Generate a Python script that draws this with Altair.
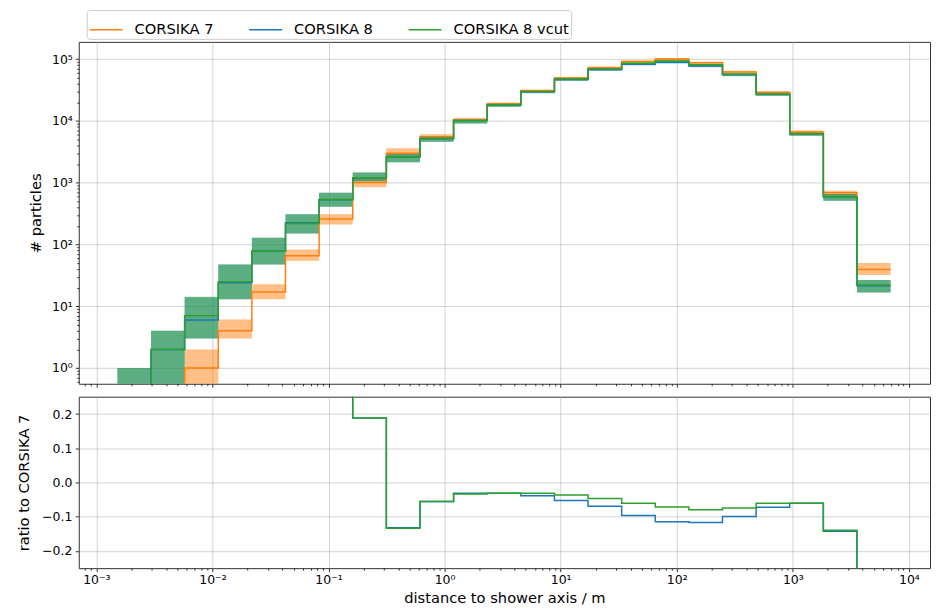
import altair as alt
import pandas as pd

# ---------------- data ----------------
edges = [1.518e-3, 2.957e-3, 5.761e-3, 1.122e-2, 2.186e-2, 4.259e-2, 8.297e-2,
         0.1616, 0.3148, 0.6134, 1.195, 2.328, 4.535, 8.835, 17.21, 33.53,
         65.31, 127.2, 247.8, 482.8, 940.4, 1832, 3569, 6953]

series = ["CORSIKA 7", "CORSIKA 8", "CORSIKA 8 vcut"]
colors = ["#ff7f0e", "#1f77b4", "#2ca02c"]

c7 = [0, 0, 1, 4, 17, 66, 258, 1010, 3000, 5500, 10500, 18800, 31000, 49500,
      73000, 92000, 101000, 88000, 62000, 29000, 6600, 690, 39.5]
c7_lo = [0, 0, 0, 3.0, 13, 54.5, 211, 845, 2600, 4950, 9900, 17900, 29800, 47800,
         70500, 89000, 98000, 85000, 59500, 27500, 6200, 600, 32]
c7_hi = [0, 0, 2, 6.1, 22.7, 82.8, 310, 1195, 3610, 6100, 11300, 19900, 32400, 51500,
         76000, 95500, 105000, 91000, 64800, 30600, 7000, 740, 50]

c8 = [0.5, 2, 6, 24, 78, 225, 530, 1200, 2600, 5190, 10160, 18200, 29800, 46900,
      67900, 83100, 89400, 77700, 55800, 26900, 6200, 591, 21.5]
c8_lo = [0, 0, 3.0, 13, 47.5, 151, 407, 1057, 2150, 4630, 9140, 17000, 28200, 44500,
         64500, 79500, 85000, 74000, 53000, 25500, 5750, 510, 16.7]
c8_hi = [1, 4, 14, 47.5, 128, 310, 690, 1466, 3000, 5730, 10770, 19300, 31500, 49500,
         71500, 87000, 94000, 81500, 58800, 28300, 6600, 660, 26.7]

vc = [0.5, 2, 7, 25, 78, 219, 533, 1200, 2600, 5190, 10150, 18200, 30000, 47700,
      69600, 86400, 93700, 81000, 57350, 27200, 6200, 593, 22]
vc_lo = [0, 0, 3.0, 13, 47.5, 151, 407, 1057, 2150, 4630, 9140, 17000, 28400, 45300,
         66000, 82500, 89000, 77000, 54500, 25800, 5750, 510, 16.7]
vc_hi = [1, 4, 14.2, 47.5, 128, 310, 690, 1466, 3000, 5730, 10770, 19300, 31700, 50200,
         73500, 91000, 98500, 85500, 60500, 28800, 6600, 660, 26.7]

# ratio panel, bins 6 .. 22 (first and last are off-scale)
ratio_first_bin = 6
ratio_c8 = [1.05, 0.189, -0.133, -0.056, -0.032, -0.032, -0.039, -0.053, -0.070,
            -0.097, -0.115, -0.117, -0.100, -0.073, -0.061, -0.143, -0.46]
ratio_vc = [1.07, 0.189, -0.134, -0.056, -0.034, -0.032, -0.032, -0.037, -0.047,
            -0.061, -0.072, -0.080, -0.075, -0.061, -0.061, -0.140, -0.44]

x_ticks = [1e-3, 1e-2, 1e-1, 1e0, 1e1, 1e2, 1e3, 1e4]
y_ticks = [1e0, 1e1, 1e2, 1e3, 1e4, 1e5]
r_ticks = [-0.2, -0.1, 0.0, 0.1, 0.2]

# ---------------- tables ----------------
FLOOR = 0.05  # stands in for zero on the log axis (falls below the visible range)
nb = len(edges) - 1

line_rows, band_rows = [], []
for name, vals, lo, hi in [("CORSIKA 7", c7, c7_lo, c7_hi),
                           ("CORSIKA 8", c8, c8_lo, c8_hi),
                           ("CORSIKA 8 vcut", vc, vc_lo, vc_hi)]:
    for i in range(nb):
        line_rows.append({"x": edges[i], "y": max(vals[i], FLOOR), "series": name})
        band_rows.append({"x": edges[i], "x2": edges[i + 1], "lo": max(lo[i], FLOOR),
                          "hi": max(hi[i], FLOOR), "series": name})
    line_rows.append({"x": edges[nb], "y": max(vals[-1], FLOOR), "series": name})
lines_df = pd.DataFrame(line_rows)
bands_df = pd.DataFrame(band_rows)

ratio_rows = []
for name, vals in [("CORSIKA 8", ratio_c8), ("CORSIKA 8 vcut", ratio_vc)]:
    for j, v in enumerate(vals):
        ratio_rows.append({"x": edges[ratio_first_bin + j], "r": v, "series": name})
    ratio_rows.append({"x": edges[nb], "r": vals[-1], "series": name})
ratio_df = pd.DataFrame(ratio_rows)

# ---------------- scales / axes ----------------
XDOM = [7.05e-4, 1.52e4]
YDOM = [0.556, 1.91e5]
xscale = alt.Scale(type="log", domain=XDOM, nice=False)
yscale = alt.Scale(type="log", domain=YDOM, nice=False)
rscale = alt.Scale(domain=[-0.251, 0.251], nice=False, zero=False)
cscale = alt.Scale(domain=series, range=colors)

x_minor = [m * 10.0 ** k for k in range(-4, 5) for m in range(2, 10)
           if XDOM[0] < m * 10.0 ** k < XDOM[1]]
y_minor = [m * 10.0 ** k for k in range(-1, 6) for m in range(2, 10)
           if YDOM[0] < m * 10.0 ** k < YDOM[1]]

pow_label = ("'10' + (datum.value < 1 ? '\u207b' : '') + "
             "['\u2070','\u00b9','\u00b2','\u00b3','\u2074','\u2075','\u2076','\u2077','\u2078','\u2079']"
             "[abs(round(log(datum.value) / LN10))]")

legend = alt.Legend(title=None, orient="none", legendX=8, legendY=-32,
                    direction="horizontal", symbolType="stroke", symbolSize=1089,
                    symbolStrokeWidth=1.5, symbolOpacity=1, labelFontSize=14.7,
                    labelOffset=11, columnPadding=32, padding=2,
                    strokeColor="#cccccc", fillColor="white", cornerRadius=3)

# ---------------- top panel ----------------
bands = alt.Chart(bands_df).mark_rect(opacity=0.5, clip=True).encode(
    x=alt.X("x:Q", scale=xscale,
            axis=alt.Axis(values=x_minor, labels=False, title=None, grid=False,
                          tickSize=2, orient="bottom")),
    x2="x2:Q",
    y=alt.Y("lo:Q", scale=yscale,
            axis=alt.Axis(values=y_minor, labels=False, title=None, grid=False,
                          tickSize=2, orient="left")),
    y2="hi:Q",
    color=alt.Color("series:N", scale=cscale, legend=legend),
)

lines = alt.Chart(lines_df).mark_line(interpolate="step-after", strokeWidth=1.5,
                                      clip=True).encode(
    x=alt.X("x:Q", scale=xscale,
            axis=alt.Axis(values=x_ticks, labels=False, title=None, grid=True,
                          tickSize=3.5, orient="bottom")),
    y=alt.Y("y:Q", scale=yscale,
            axis=alt.Axis(values=y_ticks, labelExpr=pow_label, title="# particles",
                          grid=True, tickSize=3.5, orient="left", labelPadding=3,
                          titleX=-35, titleBaseline="bottom")),
    color=alt.Color("series:N", scale=cscale, legend=legend),
)

top = alt.layer(bands, lines).resolve_axis(x="independent", y="independent").properties(
    width=854, height=343)

# ---------------- ratio panel ----------------
ratio_y_axis = alt.Axis(values=r_ticks, format=".1f", title="ratio to CORSIKA 7",
                        grid=True, tickSize=3.5, labelPadding=3.5, orient="left",
                        titleX=-47, titleBaseline="bottom")
ratio_lines = alt.Chart(ratio_df).mark_line(interpolate="step-after", strokeWidth=1.5,
                                            clip=True).encode(
    x=alt.X("x:Q", scale=xscale,
            axis=alt.Axis(values=x_ticks, labelExpr=pow_label,
                          title="distance to shower axis / m", grid=True,
                          tickSize=3.5, orient="bottom", labelPadding=2, titleY=22,
                          titleBaseline="top")),
    y=alt.Y("r:Q", scale=rscale, axis=ratio_y_axis),
    color=alt.Color("series:N", scale=cscale, legend=legend),
)
ratio_minor = alt.Chart(ratio_df).mark_line(opacity=0, clip=True).encode(
    x=alt.X("x:Q", scale=xscale,
            axis=alt.Axis(values=x_minor, labels=False, title=None, grid=False,
                          tickSize=2, orient="bottom")),
    y=alt.Y("r:Q", scale=rscale, axis=ratio_y_axis),
)
bottom = alt.layer(ratio_lines, ratio_minor).resolve_axis(x="independent").properties(
    width=854, height=172)

chart = alt.vconcat(top, bottom, spacing=13, bounds="flush").properties(
    padding={"left": 8, "top": 0, "right": 0, "bottom": 0}
).configure(font="DejaVu Sans").configure_view(
    stroke="#333333", strokeWidth=1
).configure_axis(
    domain=False, tickColor="black", tickWidth=0.8, labelColor="black",
    labelFontSize=12.5, titleFontSize=14.7, titleFontWeight="normal",
    titleColor="black", gridColor="#b0b0b0", gridOpacity=0.7, gridWidth=0.8,
    labelFont="DejaVu Sans", titleFont="DejaVu Sans"
).configure_legend(labelFont="DejaVu Sans", labelColor="black", labelLimit=300)

chart.save("out.html", embed_options={"renderer": "svg", "actions": False})
